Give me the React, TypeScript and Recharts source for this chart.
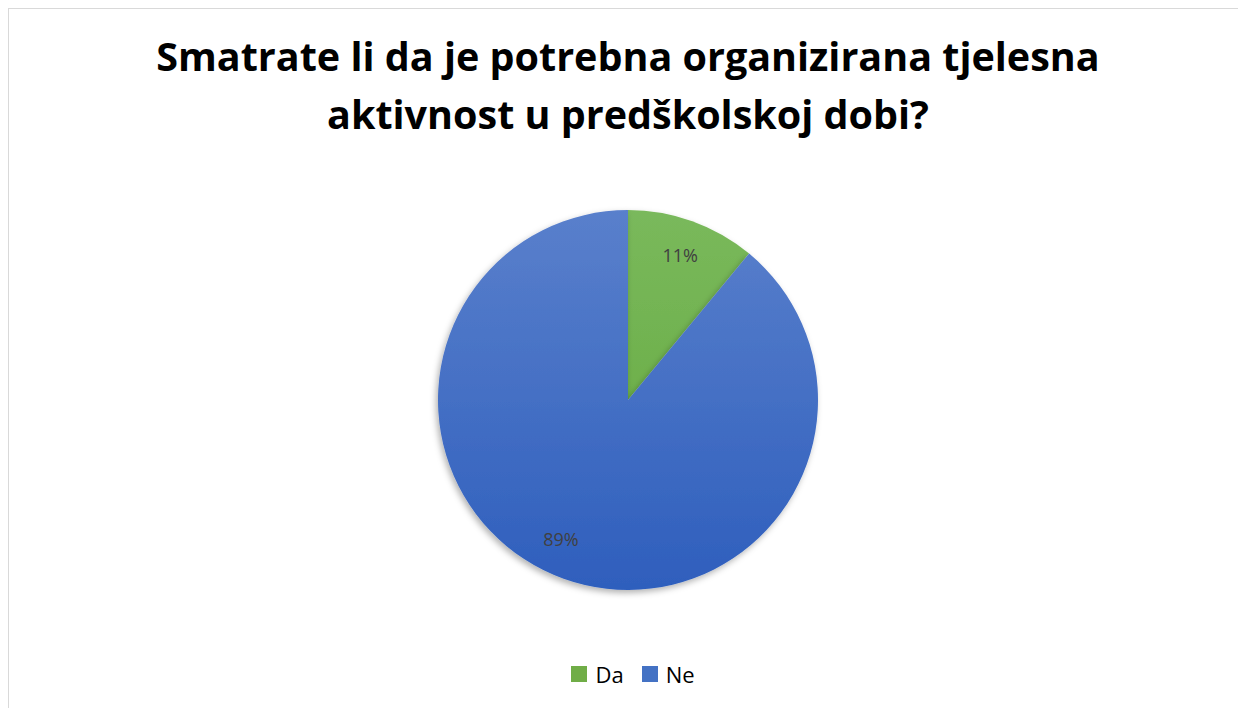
import React from 'react';
import { PieChart, Pie, Cell, Legend } from 'recharts';

const answers = ['Da', 'Ne'];
const shares = [11, 89];
const titleLines = ['Smatrate li da je potrebna organizirana tjelesna', 'aktivnost u predškolskoj dobi?'];

const data = answers.map((name, i) => ({ name, value: shares[i] }));
const fills = ['url(#gradDa)', 'url(#gradNe)'];
const legendColors = ['#70ad47', '#4472c4'];
// small angular nudge so labels sit where Excel's best-fit put them
const labelNudge = [0, -6];

const RAD = Math.PI / 180;

const renderLabel = (props: any) => {
  const { cx, cy, midAngle, outerRadius, percent, index } = props;
  const r = outerRadius * 0.81;
  const a = (midAngle + (labelNudge[index] || 0)) * RAD;
  const x = cx + r * Math.cos(-a);
  const y = cy + r * Math.sin(-a);
  return (
    <text x={x} y={y} textAnchor="middle" dominantBaseline="central" fill="#404040" fontSize={18} fontFamily="'Open Sans', sans-serif">
      {`${Math.round(percent * 100)}%`}
    </text>
  );
};

const renderLegend = () => (
  <div style={{ display: 'flex', justifyContent: 'center', alignItems: 'center', paddingLeft: 10, fontSize: 22, color: '#000', fontFamily: "'Open Sans', sans-serif" }}>
    {answers.map((name, i) => (
      <div key={name} style={{ display: 'flex', alignItems: 'center', marginRight: i < answers.length - 1 ? 18 : 0 }}>
        <span style={{ display: 'inline-block', width: 16, height: 16, background: legendColors[i], marginRight: 8 }} />
        <span>{name}</span>
      </div>
    ))}
  </div>
);

const App: React.FC = () => {
  return (
    <div style={{ position: 'relative', width: 1238, height: 700, borderTop: '1px solid #d9d9d9', borderLeft: '1px solid #d9d9d9', background: '#fff', fontFamily: "'Open Sans', sans-serif" }}>
      <div style={{ position: 'absolute', top: 18, left: 0, width: 1238, textAlign: 'center', fontWeight: 700, fontSize: 39.5, lineHeight: '58px', color: '#000' }}>
        {titleLines.map((t) => (
          <div key={t}>{t}</div>
        ))}
      </div>
      <PieChart width={1238} height={700}>
        <defs>
          <linearGradient id="gradDa" gradientUnits="userSpaceOnUse" x1="0" y1="196" x2="0" y2="576">
            <stop offset="0%" stopColor="#7ab95c" />
            <stop offset="100%" stopColor="#62a83c" />
          </linearGradient>
          <linearGradient id="gradNe" gradientUnits="userSpaceOnUse" x1="0" y1="196" x2="0" y2="576">
            <stop offset="0%" stopColor="#5a80cc" />
            <stop offset="100%" stopColor="#2f5fbd" />
          </linearGradient>
          <filter id="pieShadow" x="-10%" y="-10%" width="120%" height="120%">
            <feDropShadow dx="-2" dy="3" stdDeviation="3" floodColor="#000" floodOpacity="0.3" />
          </filter>
        </defs>
        <Pie
          data={data}
          dataKey="value"
          nameKey="name"
          cx={614}
          cy={386}
          outerRadius={190}
          startAngle={90}
          endAngle={-270}
          stroke="none"
          label={renderLabel}
          labelLine={false}
          isAnimationActive={false}
        >
          {data.map((d, i) => (
            <Cell key={d.name} fill={fills[i]} filter="url(#pieShadow)" />
          ))}
        </Pie>
        <Legend
          verticalAlign="bottom"
          content={renderLegend}
          wrapperStyle={{ top: 650, bottom: 'auto', left: 0, width: 1238 }}
        />
      </PieChart>
    </div>
  );
};

export default App;
